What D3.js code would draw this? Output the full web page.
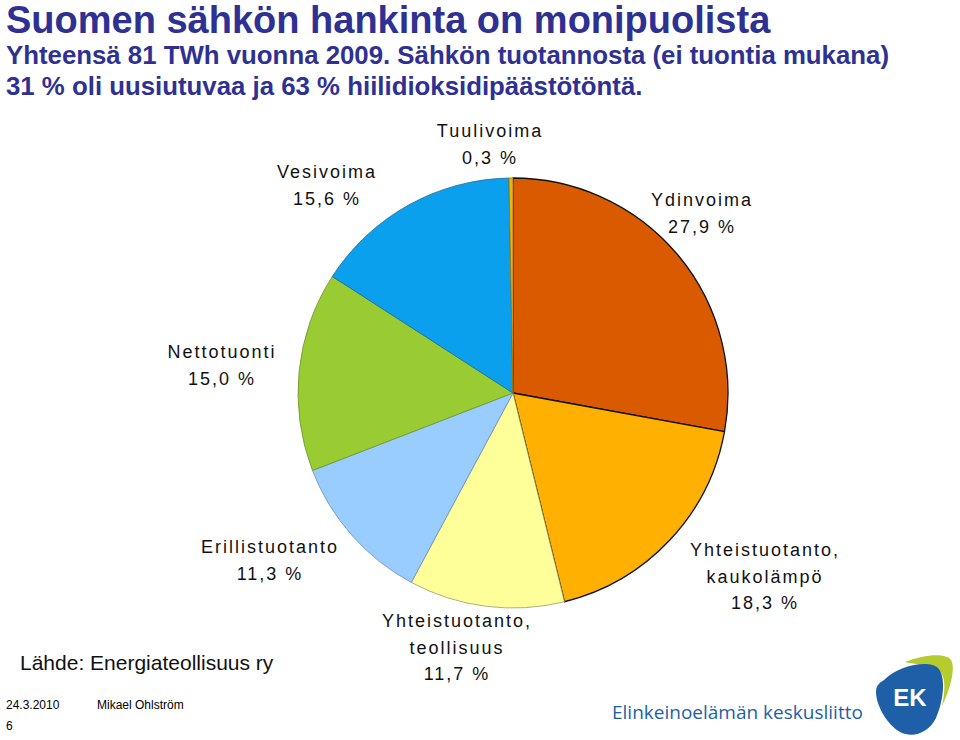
<!DOCTYPE html>
<html>
<head>
<meta charset="utf-8">
<script src="https://cdn.jsdelivr.net/npm/d3@7"></script>
<style>
  body { margin: 0; background: #fff; }
  svg { display: block; font-family: "Liberation Sans", Arial, sans-serif; }
  .title { fill: #2e3192; font-weight: bold; }
  .slice-label { font-size: 18px; letter-spacing: 2px; fill: #111; }
</style>
</head>
<body>
<div id="chart"></div>
<script>
// slices, clockwise from 12 o'clock
const categories = ['Ydinvoima', 'Yhteistuotanto, kaukolämpö', 'Yhteistuotanto, teollisuus',
  'Erillistuotanto', 'Nettotuonti', 'Vesivoima', 'Tuulivoima'];
const shares = [27.9, 18.3, 11.7, 11.3, 15.0, 15.6, 0.3];
const shareLabels = ['27,9 %', '18,3 %', '11,7 %', '11,3 %', '15,0 %', '15,6 %', '0,3 %'];

// label boxes were placed by hand in the original slide
const labelLines = [
  ['Ydinvoima'],
  ['Yhteistuotanto,', 'kaukolämpö'],
  ['Yhteistuotanto,', 'teollisuus'],
  ['Erillistuotanto'],
  ['Nettotuonti'],
  ['Vesivoima'],
  ['Tuulivoima']
];
const labelAt = [[702, 201], [765, 551], [457, 622], [270, 548], [222, 353], [327, 173], [490, 132]];

const fills = ['#da5a00', '#ffb000', '#ffff99', '#99ccff', '#99cc33', '#0aa0ee', '#f0b400'];
const strokes = ['#111', '#111', '#9a9a70', '#6f8fae', '#6f9030', '#16699a', '#a07000'];

const width = 960;
const height = 740;

const svg = d3.select('#chart')
  .append('svg')
  .attr('width', width)
  .attr('height', height);

// header
svg.append('text').attr('class', 'title')
  .attr('x', 6).attr('y', 33)
  .style('font-size', '38px')
  .text('Suomen sähkön hankinta on monipuolista');
svg.append('text').attr('class', 'title')
  .attr('x', 6).attr('y', 64)
  .style('font-size', '25.8px')
  .text('Yhteensä 81 TWh vuonna 2009. Sähkön tuotannosta (ei tuontia mukana)');
svg.append('text').attr('class', 'title')
  .attr('x', 6).attr('y', 95)
  .style('font-size', '25.8px')
  .text('31 % oli uusiutuvaa ja 63 % hiilidioksidipäästötöntä.');

// pie
const cx = 513, cy = 393, radius = 215;
const pie = d3.pie().sort(null).value(d => d);
const arc = d3.arc().innerRadius(0).outerRadius(radius);

const g = svg.append('g').attr('transform', `translate(${cx},${cy})`);
g.selectAll('path')
  .data(pie(shares))
  .enter()
  .append('path')
  .attr('d', arc)
  .attr('fill', (d, i) => fills[i])
  .attr('stroke', (d, i) => strokes[i])
  .attr('stroke-width', (d, i) => i < 2 ? 1.3 : 0.8)
  .attr('stroke-linejoin', 'round');

// slice labels
const labels = svg.append('g').attr('class', 'slice-label');
categories.forEach((c, i) => {
  const lines = labelLines[i].concat([shareLabels[i]]);
  const t = labels.append('text')
    .attr('x', labelAt[i][0])
    .attr('y', labelAt[i][1])
    .attr('text-anchor', 'middle')
    .attr('dominant-baseline', 'middle');
  lines.forEach((l, k) => {
    t.append('tspan')
      .attr('x', labelAt[i][0])
      .attr('dy', k === 0 ? 0 : 26.5)
      .text(l);
  });
});

// source and footer
svg.append('text')
  .attr('x', 20).attr('y', 670)
  .style('font-size', '21px')
  .attr('fill', '#111')
  .text('Lähde: Energiateollisuus ry');
svg.append('text')
  .attr('x', 6).attr('y', 709)
  .style('font-size', '12px')
  .text('24.3.2010');
svg.append('text')
  .attr('x', 97).attr('y', 709)
  .style('font-size', '12px')
  .text('Mikael Ohlström');
svg.append('text')
  .attr('x', 6).attr('y', 730)
  .style('font-size', '12px')
  .text('6');

// EK logo
svg.append('text')
  .attr('x', 612).attr('y', 719)
  .style('font-size', '19px')
  .style('font-family', '"Open Sans", sans-serif')
  .attr('fill', '#1f5fa8')
  .text('Elinkeinoelämän keskusliitto');

const logo = svg.append('g');
logo.append('path')
  .attr('d', 'M905,662 C925,654 946,653 951,660 C956,668 950,690 942,706 C946,688 946,672 935,668 C925,664 912,664 905,662 Z')
  .attr('fill', '#b6cc2e');
logo.append('path')
  .attr('d', 'M884,680 C900,664 930,660 938,668 C946,676 944,700 936,718 C928,734 912,738 900,732 C886,724 876,704 876,692 C876,686 879,683 884,680 Z')
  .attr('fill', '#1f5fa8');
logo.append('text')
  .attr('x', 910).attr('y', 706)
  .attr('text-anchor', 'middle')
  .style('font-size', '24px')
  .style('font-weight', 'bold')
  .attr('fill', '#fff')
  .text('EK');
</script>
</body>
</html>
